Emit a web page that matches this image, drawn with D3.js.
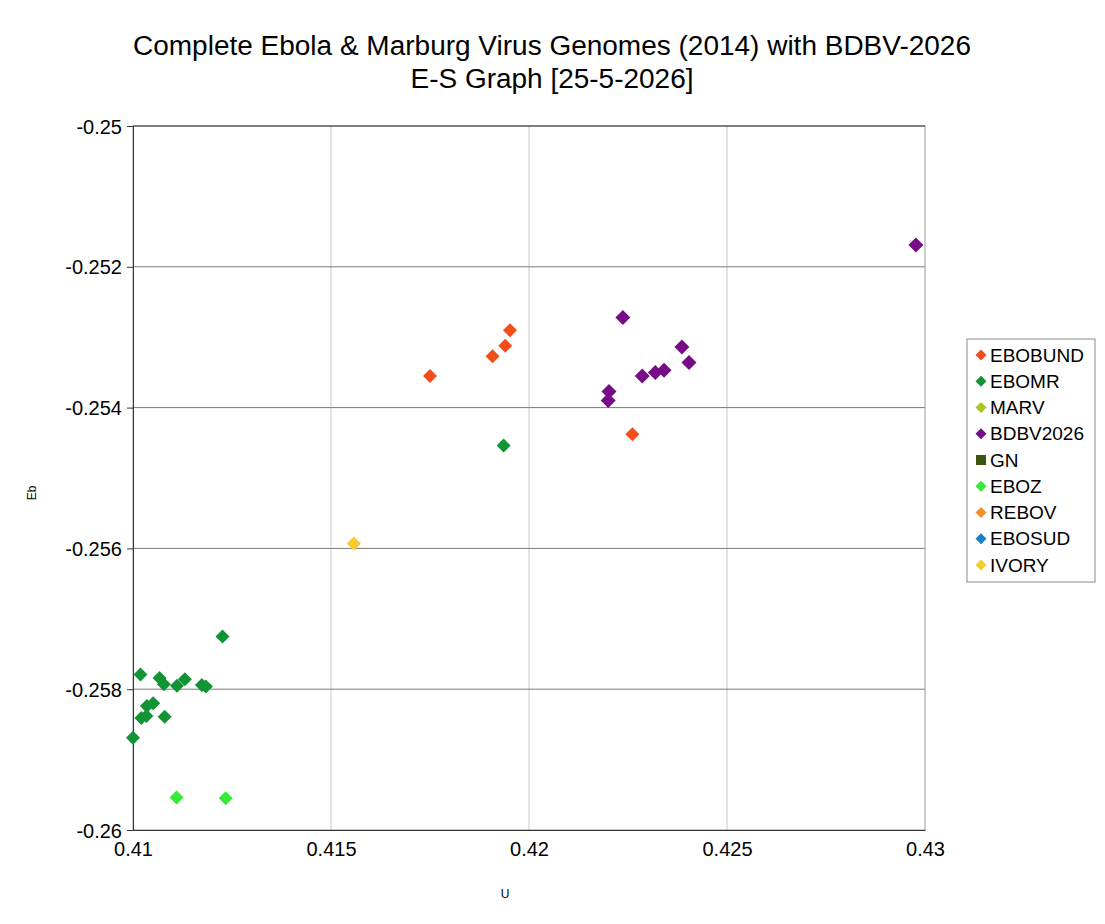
<!DOCTYPE html>
<meta charset="utf-8">
<script src="https://d3js.org/d3.v7.js"></script>
<title>E-S Graph</title>
<style>
  body { margin: 0; background: #fff; }
  text { font-family: "Liberation Sans", Arial, sans-serif; }
</style>
<div id="chart"></div>
<script>

// series names and colours (legend order)
const seriesNames = ["EBOBUND", "EBOMR", "MARV", "BDBV2026", "GN", "EBOZ", "REBOV", "EBOSUD", "IVORY"];
const seriesColors = ["#f24e1c", "#119434", "#a9c521", "#760c86", "#3b5610", "#35ea35", "#f39029", "#1b7fc4", "#f6cb2b"];

// points: [U, Eb]
const EBOBUND = [[0.41750, -0.25355], [0.41908, -0.25327], [0.41940, -0.25312], [0.41952, -0.25290], [0.42261, -0.25438]];
const EBOMR = [
  [0.41226, -0.25725], [0.41019, -0.25779], [0.41067, -0.25784], [0.41078, -0.25793],
  [0.41131, -0.25786], [0.41111, -0.25795], [0.41174, -0.25794], [0.41184, -0.25796],
  [0.41035, -0.25824], [0.41051, -0.25820], [0.41021, -0.25841], [0.41034, -0.25838],
  [0.41080, -0.25839], [0.41000, -0.25869], [0.41936, -0.25454]
];
const MARV = [];
const BDBV2026 = [
  [0.42237, -0.25272], [0.42386, -0.25314], [0.42404, -0.25336], [0.42286, -0.25355],
  [0.42319, -0.25350], [0.42341, -0.25347], [0.42202, -0.25377], [0.42200, -0.25390],
  [0.42977, -0.25169]
];
const GN = [];
const EBOZ = [[0.41110, -0.25954], [0.41234, -0.25955]];
const REBOV = [];
const EBOSUD = [];
const IVORY = [[0.41558, -0.25593]];

const xTicks = [0.41, 0.415, 0.42, 0.425, 0.43];
const yTicks = [-0.25, -0.252, -0.254, -0.256, -0.258, -0.26];

const seriesData = [EBOBUND, EBOMR, MARV, BDBV2026, GN, EBOZ, REBOV, EBOSUD, IVORY];

const W = 1105, H = 924;
const margin = {top: 126, left: 133},
    width = 792,
    height = 704;

const svg = d3.select("#chart").append("svg")
    .attr("width", W)
    .attr("height", H);

// title
const title = svg.append("text")
    .attr("text-anchor", "middle")
    .attr("font-size", 27)
    .attr("fill", "#000");
title.append("tspan").attr("x", 552).attr("y", 55)
    .attr("textLength", 838).attr("lengthAdjust", "spacingAndGlyphs")
    .text("Complete Ebola & Marburg Virus Genomes (2014) with BDBV-2026");
title.append("tspan").attr("x", 552).attr("y", 88)
    .attr("textLength", 283).attr("lengthAdjust", "spacingAndGlyphs")
    .text("E-S Graph [25-5-2026]");

const g = svg.append("g")
    .attr("transform", `translate(${margin.left},${margin.top})`);

const x = d3.scaleLinear().domain([0.41, 0.43]).range([0, width]);
const y = d3.scaleLinear().domain([-0.26, -0.25]).range([height, 0]);

// grid
g.append("g").selectAll("line").data(xTicks.slice(1, -1)).join("line")
    .attr("x1", d => x(d)).attr("x2", d => x(d))
    .attr("y1", 0).attr("y2", height)
    .attr("stroke", "#c8c8c8").attr("stroke-width", 1);
g.append("g").selectAll("line").data(yTicks.slice(1, -1)).join("line")
    .attr("x1", 0).attr("x2", width)
    .attr("y1", d => y(d)).attr("y2", d => y(d))
    .attr("stroke", "#7a7a7a").attr("stroke-width", 1);

// frame
g.append("rect")
    .attr("width", width).attr("height", height)
    .attr("fill", "none").attr("stroke", "#9a9a9a");
g.append("line").attr("x1", 0).attr("x2", width).attr("y1", 0).attr("y2", 0).attr("stroke", "#333");

// axes (plain hyphen for minus, like the original)
const fmt = d => String(+d.toFixed(3));
const xAxis = g.append("g")
    .attr("transform", `translate(0,${height})`)
    .call(d3.axisBottom(x).tickValues(xTicks).tickFormat(fmt).tickSize(0).tickPadding(12));
const yAxis = g.append("g")
    .call(d3.axisLeft(y).tickValues(yTicks).tickFormat(fmt).tickSize(6).tickPadding(5));
[xAxis, yAxis].forEach(a => {
  a.select(".domain").attr("stroke", "#333");
  a.selectAll("text").attr("font-size", 20).attr("fill", "#000")
    .attr("font-family", "Liberation Sans, Arial, sans-serif");
  a.selectAll(".tick line").attr("stroke", "#333");
});
yAxis.selectAll("text").attr("dy", "0.35em");

// axis titles
svg.append("text").attr("x", 505).attr("y", 898)
    .attr("text-anchor", "middle").attr("font-size", 12).text("U");
svg.append("text")
    .attr("transform", "translate(36,493) rotate(-90)")
    .attr("text-anchor", "middle").attr("font-size", 12).text("Eb");

// diamond path, half-diagonal r
const diamond = r => `M0,${-r}L${r},0L0,${r}L${-r},0Z`;

// points
seriesData.forEach((pts, i) => {
  g.append("g").selectAll("path").data(pts).join("path")
    .attr("d", diamond(i === 3 ? 7.5 : 7))
    .attr("transform", d => `translate(${x(d[0])},${y(d[1])})`)
    .attr("fill", seriesColors[i]);
});

// legend
const legend = svg.append("g").attr("transform", "translate(967,339)");
legend.append("rect")
    .attr("width", 128).attr("height", 243)
    .attr("fill", "#fff").attr("stroke", "#8a8a8a");
const rows = legend.selectAll("g.row").data(seriesNames).join("g")
    .attr("class", "row")
    .attr("transform", (d, i) => `translate(0,${16 + i * 26.25})`);
rows.append("path")
    .attr("d", (d, i) => seriesNames[i] === "GN" ? "M-5,-5H5V5H-5Z" : diamond(5.5))
    .attr("transform", "translate(14,0)")
    .attr("fill", (d, i) => seriesColors[i]);
rows.append("text")
    .attr("x", 23).attr("dy", "0.35em")
    .attr("font-size", 19).attr("fill", "#000")
    .text(d => d);

</script>
